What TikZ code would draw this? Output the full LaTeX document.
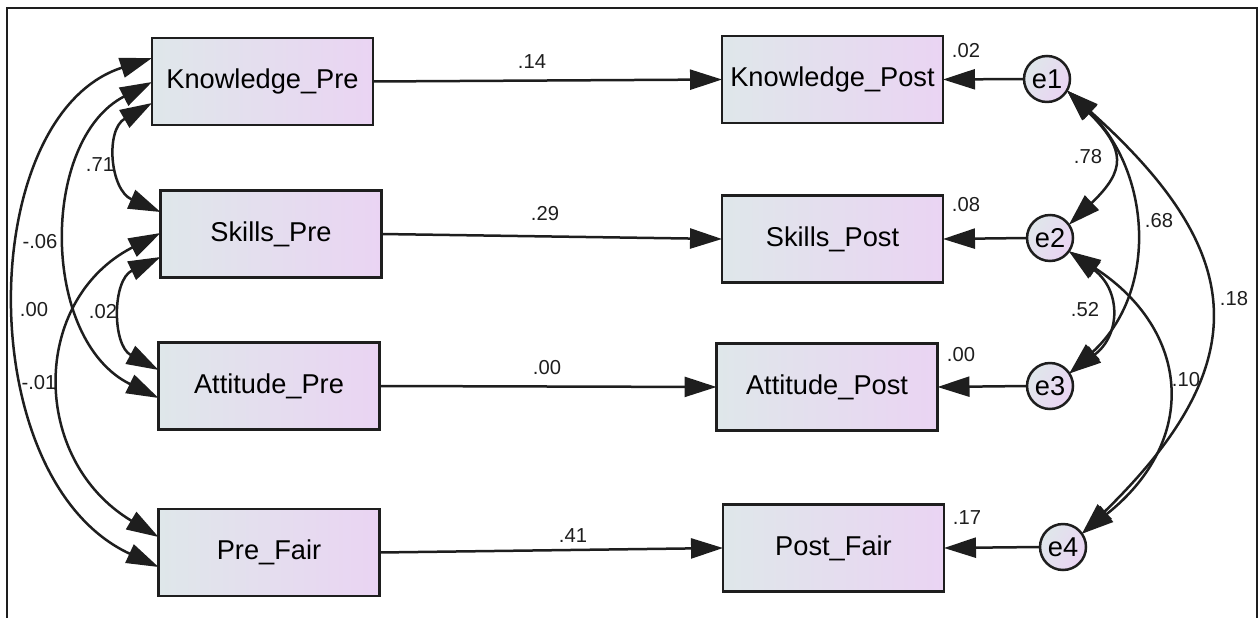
\documentclass[tikz,border=0pt]{standalone}
\usepackage{fontspec}
\setmainfont{Liberation Sans}
\usetikzlibrary{arrows.meta,calc}
\definecolor{gl}{HTML}{DFE7EA}
\definecolor{gr}{HTML}{EAD4F3}
\definecolor{ink}{HTML}{1E1E1E}
\begin{document}
\begin{tikzpicture}[x=0.02cm,y=-0.02cm,
  >={Triangle[length=0.64cm,width=0.4cm]},
  box/.style={draw=ink, line width=0.05cm, left color=gl, right color=gr, minimum width=4.42cm, minimum height=1.74cm, inner sep=0pt, outer sep=0pt, font=\fontsize{15.5}{18}\selectfont},
  err/.style={circle, draw=ink, line width=0.05cm, left color=gl, right color=gr, shading angle=60, minimum size=0.92cm, inner sep=0pt, outer sep=0pt, font=\fontsize{15.5}{18}\selectfont},
  lbl/.style={font=\fontsize{11.5}{13}\selectfont, inner sep=0pt, text=ink},
  reg/.style={line width=0.05cm, ->, draw=ink},
  cov/.style={line width=0.05cm, <->, draw=ink},
]
\useasboundingbox (0,0) rectangle (1260,618);
\draw[line width=0.03cm, ink] (7,618) -- (7,8) -- (1257,8) -- (1257,618);

% observed variables
\node[box] (KP) at (262.5,81.5) {Knowledge\_Pre};
\node[box] (SP) at (271,234) {Skills\_Pre};
\node[box] (AP) at (269,386) {Attitude\_Pre};
\node[box] (PF) at (269,552.5) {Pre\_Fair};
\node[box] (KPo) at (832.5,79.5) {Knowledge\_Post};
\node[box] (SPo) at (832.5,239) {Skills\_Post};
\node[box] (APo) at (827,387) {Attitude\_Post};
\node[box] (PFo) at (833.5,548) {Post\_Fair};

% errors
\node[err] (e1) at (1047,79) {e1};
\node[err] (e2) at (1050,238) {e2};
\node[err] (e3) at (1050,386) {e3};
\node[err] (e4) at (1063,547) {e4};

% regressions
\draw[reg] (KP.east) -- (KPo.west);
\draw[reg] (SP.east) -- (SPo.west);
\draw[reg] (AP.east) -- (APo.west);
\draw[reg] (PF.east) -- (PFo.west);
\draw[reg] (e1.west) -- (KPo.east);
\draw[reg] (e2.west) -- (SPo.east);
\draw[reg] (e3.west) -- (APo.east);
\draw[reg] (e4.west) -- (PFo.east);

% left covariances
\draw[cov] ($(KP.west)+(0,21.5)$) .. controls (105,130) and (110,190) .. ($(SP.west)+(0,-22)$);
\draw[cov] ($(KP.west)+(0,0.5)$) .. controls (40,140) and (40,340) .. ($(AP.west)+(0,12)$);
\draw[cov] ($(KP.west)+(0,-23.5)$) .. controls (-25,115) and (-30,480) .. ($(PF.west)+(0,14.5)$);
\draw[cov] ($(SP.west)+(0,-1)$) .. controls (30,300) and (30,460) .. ($(PF.west)+(0,-15.5)$);
\draw[cov] ($(SP.west)+(0,23)$) .. controls (112,280) and (112,345) .. ($(AP.west)+(0,-16)$);

% right covariances
\draw[cov] (e1.-30) .. controls (1126,150) and (1126,170) .. (e2.35);
\draw[cov] (e1.-30) .. controls (1150,170) and (1160,290) .. (e3.33);
\draw[cov] (e1.-30) .. controls (1245,250) and (1260,360) .. (e4.35);
\draw[cov] (e2.-35) .. controls (1121,290) and (1121,335) .. (e3.33);
\draw[cov] (e2.-35) .. controls (1190,330) and (1200,440) .. (e4.35);

% labels
\node[lbl] at (532,62) {.14};
\node[lbl] at (545,214) {.29};
\node[lbl] at (547,368) {.00};
\node[lbl] at (573,536) {.41};
\node[lbl] at (966,51) {.02};
\node[lbl] at (966,205) {.08};
\node[lbl] at (961,355) {.00};
\node[lbl] at (967,518) {.17};
\node[lbl] at (1088,157) {.78};
\node[lbl] at (1159,221) {.68};
\node[lbl] at (1234,299) {.18};
\node[lbl] at (1085,310) {.52};
\node[lbl] at (1186,380) {.10};
\node[lbl] at (100,165) {.71};
\node[lbl] at (40,242) {-.06};
\node[lbl] at (34,310) {.00};
\node[lbl] at (103,312) {.02};
\node[lbl] at (39,383) {-.01};
\end{tikzpicture}
\end{document}
